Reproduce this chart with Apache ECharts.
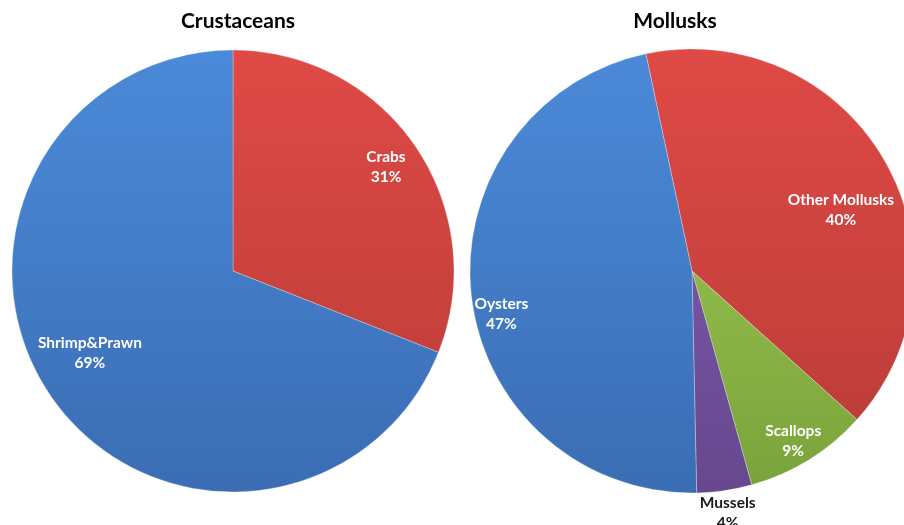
<!DOCTYPE html>
<html>
<head>
<meta charset="utf-8">
<style>
  html, body { margin: 0; padding: 0; background: #ffffff; }
  #chart { width: 904px; height: 525px; }
</style>
<script src="https://cdn.jsdelivr.net/npm/echarts@6/dist/echarts.min.js"></script>
</head>
<body>
<div id="chart"></div>
<script>
// Shares of aquaculture production, in percent
const crustaceanNames = ['Crabs', 'Shrimp&Prawn'];
const crustaceanValues = [31, 69];
const molluskNames = ['Other Mollusks', 'Scallops', 'Mussels', 'Oysters'];
const molluskValues = [40, 9, 4, 47];

// Slice colours: [top, bottom] of each vertical gradient
const palette = {
  'Crabs': ['#df4a46', '#b83b37'],
  'Shrimp&Prawn': ['#4b8ad9', '#3a6db3'],
  'Other Mollusks': ['#df4a46', '#b83b37'],
  'Scallops': ['#a3d157', '#7aa23b'],
  'Mussels': ['#8160b0', '#67488f'],
  'Oysters': ['#4b8ad9', '#3a6db3']
};

// Label placement: fraction of the radius, and turn (degrees) off the slice's middle
const labelRadius = {
  'Crabs': 0.837, 'Shrimp&Prawn': 0.746,
  'Other Mollusks': 0.725, 'Scallops': 0.89, 'Mussels': 1.1, 'Oysters': 0.88
};
const labelTurn = {
  'Crabs': 0, 'Shrimp&Prawn': 4.4,
  'Other Mollusks': 7.7, 'Scallops': 1, 'Mussels': 0, 'Oysters': -6
};

const pies = [
  { title: 'Crustaceans', names: crustaceanNames, values: crustaceanValues,
    cx: 233, cy: 271, r: 221, start: 90, titleX: 233 },
  { title: 'Mollusks', names: molluskNames, values: molluskValues,
    cx: 692, cy: 271, r: 222, start: 102, titleX: 670 }
];

const font = 'Lato, "Open Sans", "DejaVu Sans", sans-serif';

function gradient(p, name) {
  const c = palette[name];
  return {
    type: 'linear', global: true,
    x: p.cx, y: p.cy - p.r, x2: p.cx, y2: p.cy + p.r,
    colorStops: [{ offset: 0, color: c[0] }, { offset: 1, color: c[1] }]
  };
}

// Label anchor near the middle angle of each slice
function labelPos(p, idx) {
  const total = p.values.reduce((a, b) => a + b, 0);
  let before = 0;
  for (let i = 0; i < idx; i++) before += p.values[i];
  const name = p.names[idx];
  const midDeg = (90 - p.start) + (before + p.values[idx] / 2) / total * 360 + labelTurn[name];
  const a = midDeg * Math.PI / 180;
  const k = labelRadius[name];
  return [p.cx + k * p.r * Math.sin(a), p.cy - k * p.r * Math.cos(a)];
}

const chart = echarts.init(document.getElementById('chart'), null, { renderer: 'canvas' });

chart.setOption({
  backgroundColor: '#ffffff',
  animation: false,
  title: pies.map(p => ({
    text: p.title,
    left: p.titleX, top: 6,
    textAlign: 'center',
    textStyle: { fontFamily: font, fontSize: 21, fontWeight: 'bold', color: '#000000' }
  })),
  series: pies.map(p => ({
    type: 'pie',
    center: [p.cx, p.cy],
    radius: [0, p.r],
    startAngle: p.start,
    clockwise: true,
    percentPrecision: 0,
    avoidLabelOverlap: false,
    labelLine: { show: false },
    itemStyle: { borderColor: 'rgba(255,255,255,0.35)', borderWidth: 0.8 },
    emphasis: { disabled: true },
    label: {
      show: true,
      position: 'inside',
      formatter: '{b}\n{d}%',
      fontFamily: font,
      fontSize: 15.5,
      fontWeight: 'bold',
      lineHeight: 20,
      align: 'center',
      color: '#ffffff'
    },
    labelLayout: params => {
      const xy = labelPos(p, params.dataIndex);
      return { x: xy[0], y: xy[1], align: 'center', verticalAlign: 'middle' };
    },
    data: p.names.map((n, i) => ({
      name: n,
      value: p.values[i],
      itemStyle: { color: gradient(p, n) },
      label: n === 'Mussels' ? { color: '#1a1a1a' } : undefined
    }))
  }))
});
</script>
</body>
</html>
